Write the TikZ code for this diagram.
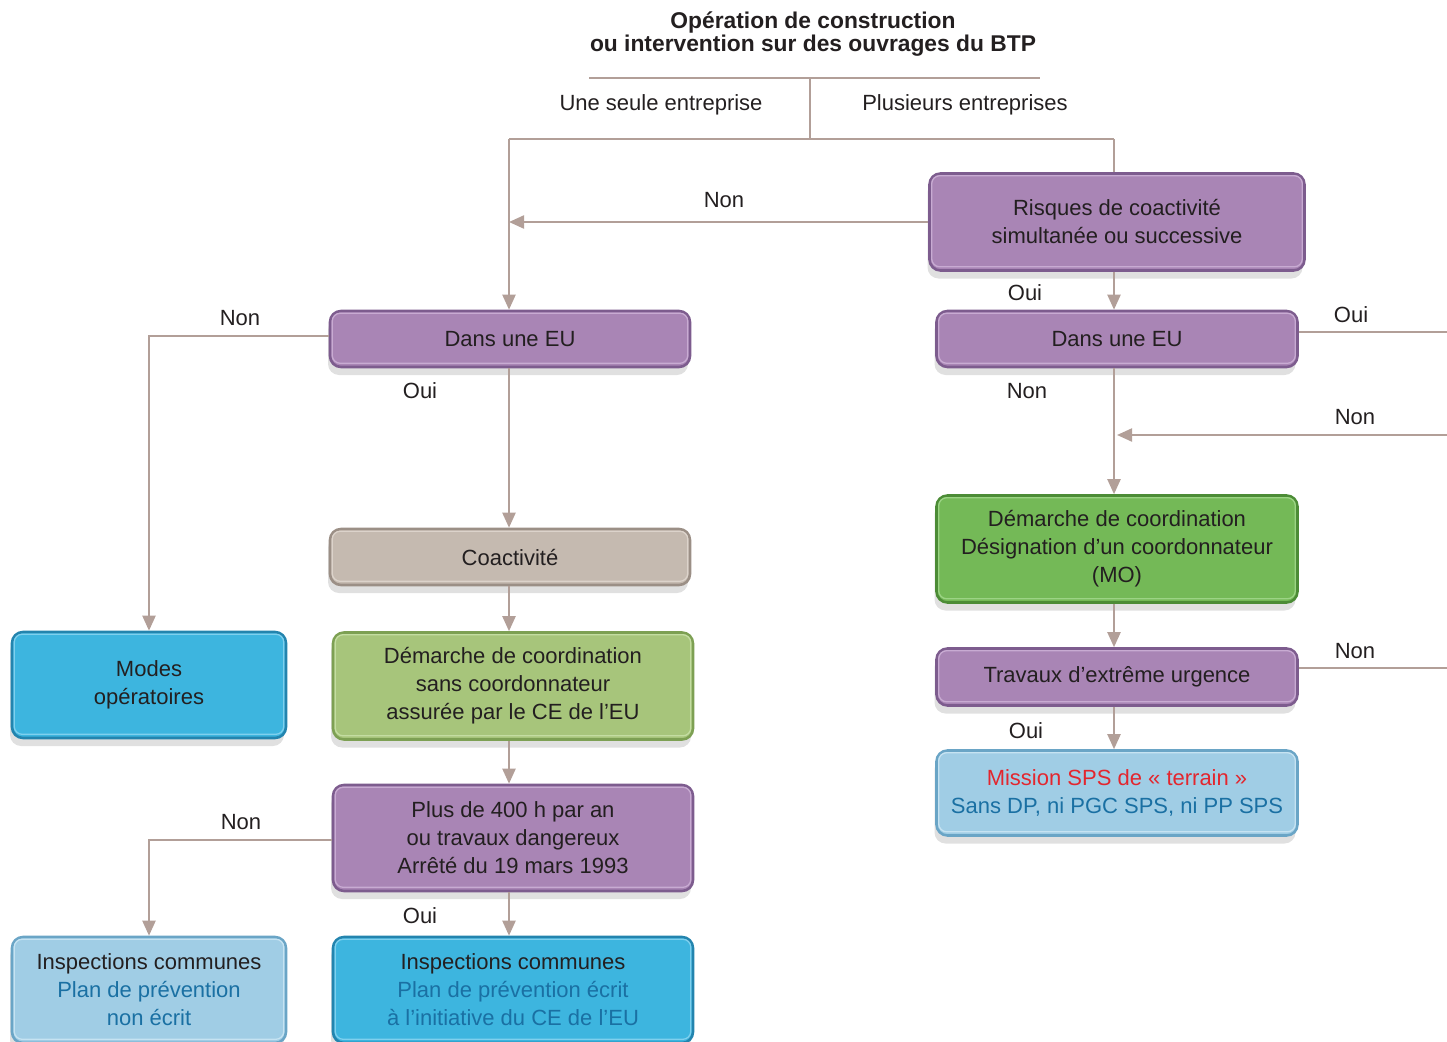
\documentclass[tikz,border=0pt]{standalone}
\usepackage{fontspec}
\setmainfont{Liberation Sans}
\usetikzlibrary{arrows.meta,shadows,calc}

\definecolor{conn}{HTML}{B29F98}
\definecolor{txt}{HTML}{231F20}
\definecolor{txtblue}{HTML}{1A70A3}
\definecolor{txtred}{HTML}{E3262E}
\definecolor{purF}{HTML}{A985B5}
\definecolor{purD}{HTML}{7D5C8E}
\definecolor{purL}{HTML}{C8ABD2}
\definecolor{grnF}{HTML}{74B957}
\definecolor{grnD}{HTML}{4C8C36}
\definecolor{grnL}{HTML}{9CD485}
\definecolor{lgrF}{HTML}{A7C57B}
\definecolor{lgrD}{HTML}{7DA053}
\definecolor{lgrL}{HTML}{C4DDA2}
\definecolor{gryF}{HTML}{C5BAB0}
\definecolor{gryD}{HTML}{9B8F86}
\definecolor{gryL}{HTML}{DCD3CB}
\definecolor{bluF}{HTML}{3DB5DF}
\definecolor{bluD}{HTML}{2384AE}
\definecolor{bluL}{HTML}{7FD0EE}
\definecolor{lbuF}{HTML}{A0CDE5}
\definecolor{lbuD}{HTML}{6AA5C6}
\definecolor{lbuL}{HTML}{C6E3F2}

\tikzset{
  x=1pt, y=-1pt,
  every node/.style={text=txt, font=\fontsize{22}{28}\selectfont},
  box/.style n args={4}{fill=#1, draw=#2, line width=2.6pt, rounded corners=11pt,
    minimum width=#3, minimum height=#4, align=center, inner sep=2pt,
    drop shadow={shadow xshift=-2pt, shadow yshift=-8pt, opacity=0.2, fill=black!60}},
  purbox/.style 2 args={box={purF}{purD}{#1}{#2}},
  grnbox/.style 2 args={box={grnF}{grnD}{#1}{#2}},
  lgrbox/.style 2 args={box={lgrF}{lgrD}{#1}{#2}},
  grybox/.style 2 args={box={gryF}{gryD}{#1}{#2}},
  blubox/.style 2 args={box={bluF}{bluD}{#1}{#2}},
  lbubox/.style 2 args={box={lbuF}{lbuD}{#1}{#2}},
  link/.style={draw=conn, line width=2.2pt},
  arr/.style={link, -{Triangle[length=15pt,width=13pt]}},
  lbl/.style={inner sep=0pt},
}

\begin{document}
\begin{tikzpicture}
\useasboundingbox (0,0) rectangle (1447,1041);

% title
\node[lbl, align=center, font=\fontsize{22.8}{23}\selectfont\bfseries] (title) at (813,34)
  {Opération de construction\\ou intervention sur des ouvrages du BTP};

% right column
\node[purbox={375pt}{97pt}] (risk) at (1117,222) {Risques de coactivité\\simultanée ou successive};
\node[purbox={361pt}{56pt}] (dansR) at (1117,339) {Dans une EU};
\node[grnbox={361pt}{107pt}] (demR) at (1117,549) {Démarche de coordination\\Désignation d’un coordonnateur\\(MO)};
\node[purbox={361pt}{57pt}] (trav) at (1117,677) {Travaux d’extrême urgence};
\node[lbubox={361pt}{85pt}] (mission) at (1117,793)
  {\textcolor{txtred}{Mission SPS de «~terrain~»}\\\textcolor{txtblue}{Sans DP, ni PGC SPS, ni PP SPS}};

% left column
\node[purbox={360pt}{56pt}] (dansL) at (510,339) {Dans une EU};
\node[grybox={360pt}{56pt}] (coact) at (510,557) {Coactivité};
\node[lgrbox={360pt}{107pt}] (demL) at (513,686) {Démarche de coordination\\sans coordonnateur\\assurée par le CE de l’EU};
\node[purbox={360pt}{106pt}] (plus) at (513,838) {Plus de 400 h par an\\ou travaux dangereux\\Arrêté du 19 mars 1993};
\node[blubox={274pt}{106pt}] (modes) at (149,685) {Modes\\opératoires};
\node[lbubox={274pt}{106pt}] (inspL) at (149,990)
  {Inspections communes\\\textcolor{txtblue}{Plan de prévention}\\\textcolor{txtblue}{non écrit}};
\node[blubox={360pt}{106pt}] (inspR) at (513,990)
  {Inspections communes\\\textcolor{txtblue}{Plan de prévention écrit}\\\textcolor{txtblue}{à l’initiative du CE de l’EU}};

% inner highlights giving the boxes their bevel
\foreach \n/\c in {risk/purL, dansR/purL, demR/grnL, trav/purL, mission/lbuL,
                   dansL/purL, coact/gryL, demL/lgrL, plus/purL, modes/bluL,
                   inspL/lbuL, inspR/bluL}
  \draw[\c, line width=1.3pt, rounded corners=8pt]
    ([shift={(3.5pt,-3.5pt)}]\n.north west) rectangle ([shift={(-3.5pt,5pt)}]\n.south east);

% branching at the top
\coordinate (tl) at (589,78);
\coordinate (tr) at (1040,78);
\coordinate (tm) at (810,78);
\coordinate (sm) at (810,139);
\coordinate (sl) at (509,139);
\coordinate (sr) at (1114,139);
\draw[link] (tl) -- (tr);
\draw[link] (tm) -- (sm);
\draw[link] (sl) -- (sr);
\draw[arr] (sl) -- (sl |- dansL.north);
\draw[link] (sr) -- (sr |- risk.north);
\node[lbl] (one) at (661,105) {Une seule entreprise};
\node[lbl] (many) at (965,105) {Plusieurs entreprises};

% right column connectors
\draw[arr] (risk.west) -- (sl |- risk.west);
\node[lbl] at (724,200) {Non};
\draw[arr] (sr |- risk.south) -- (sr |- dansR.north);
\node[lbl] at (1025,293) {Oui};
\coordinate (eOui) at (1447,332);
\draw[link] (dansR.east |- eOui) -- (eOui);
\node[lbl] at (1351,315) {Oui};
\draw[arr] (sr |- dansR.south) -- (sr |- demR.north);
\node[lbl] at (1027,391) {Non};
\coordinate (eNon) at (1447,435);
\draw[arr] (eNon) -- ([xshift=3pt]sr |- eNon);
\node[lbl] at (1355,417) {Non};
\draw[arr] (sr |- demR.south) -- (sr |- trav.north);
\coordinate (eNon2) at (1447,668);
\draw[link] (trav.east |- eNon2) -- (eNon2);
\node[lbl] at (1355,651) {Non};
\draw[arr] (sr |- trav.south) -- (sr |- mission.north);
\node[lbl] at (1026,731) {Oui};

% left column connectors
\draw[arr] ([yshift=3pt]dansL.west) -| (modes.north);
\node[lbl] at (240,318) {Non};
\draw[arr] (sl |- dansL.south) -- (sl |- coact.north);
\node[lbl] at (420,391) {Oui};
\draw[arr] (sl |- coact.south) -- (sl |- demL.north);
\draw[arr] (sl |- demL.south) -- (sl |- plus.north);
\draw[arr] ([yshift=-2pt]plus.west) -| (inspL.north);
\node[lbl] at (241,822) {Non};
\draw[arr] (sl |- plus.south) -- (sl |- inspR.north);
\node[lbl] at (420,916) {Oui};
\end{tikzpicture}
\end{document}
